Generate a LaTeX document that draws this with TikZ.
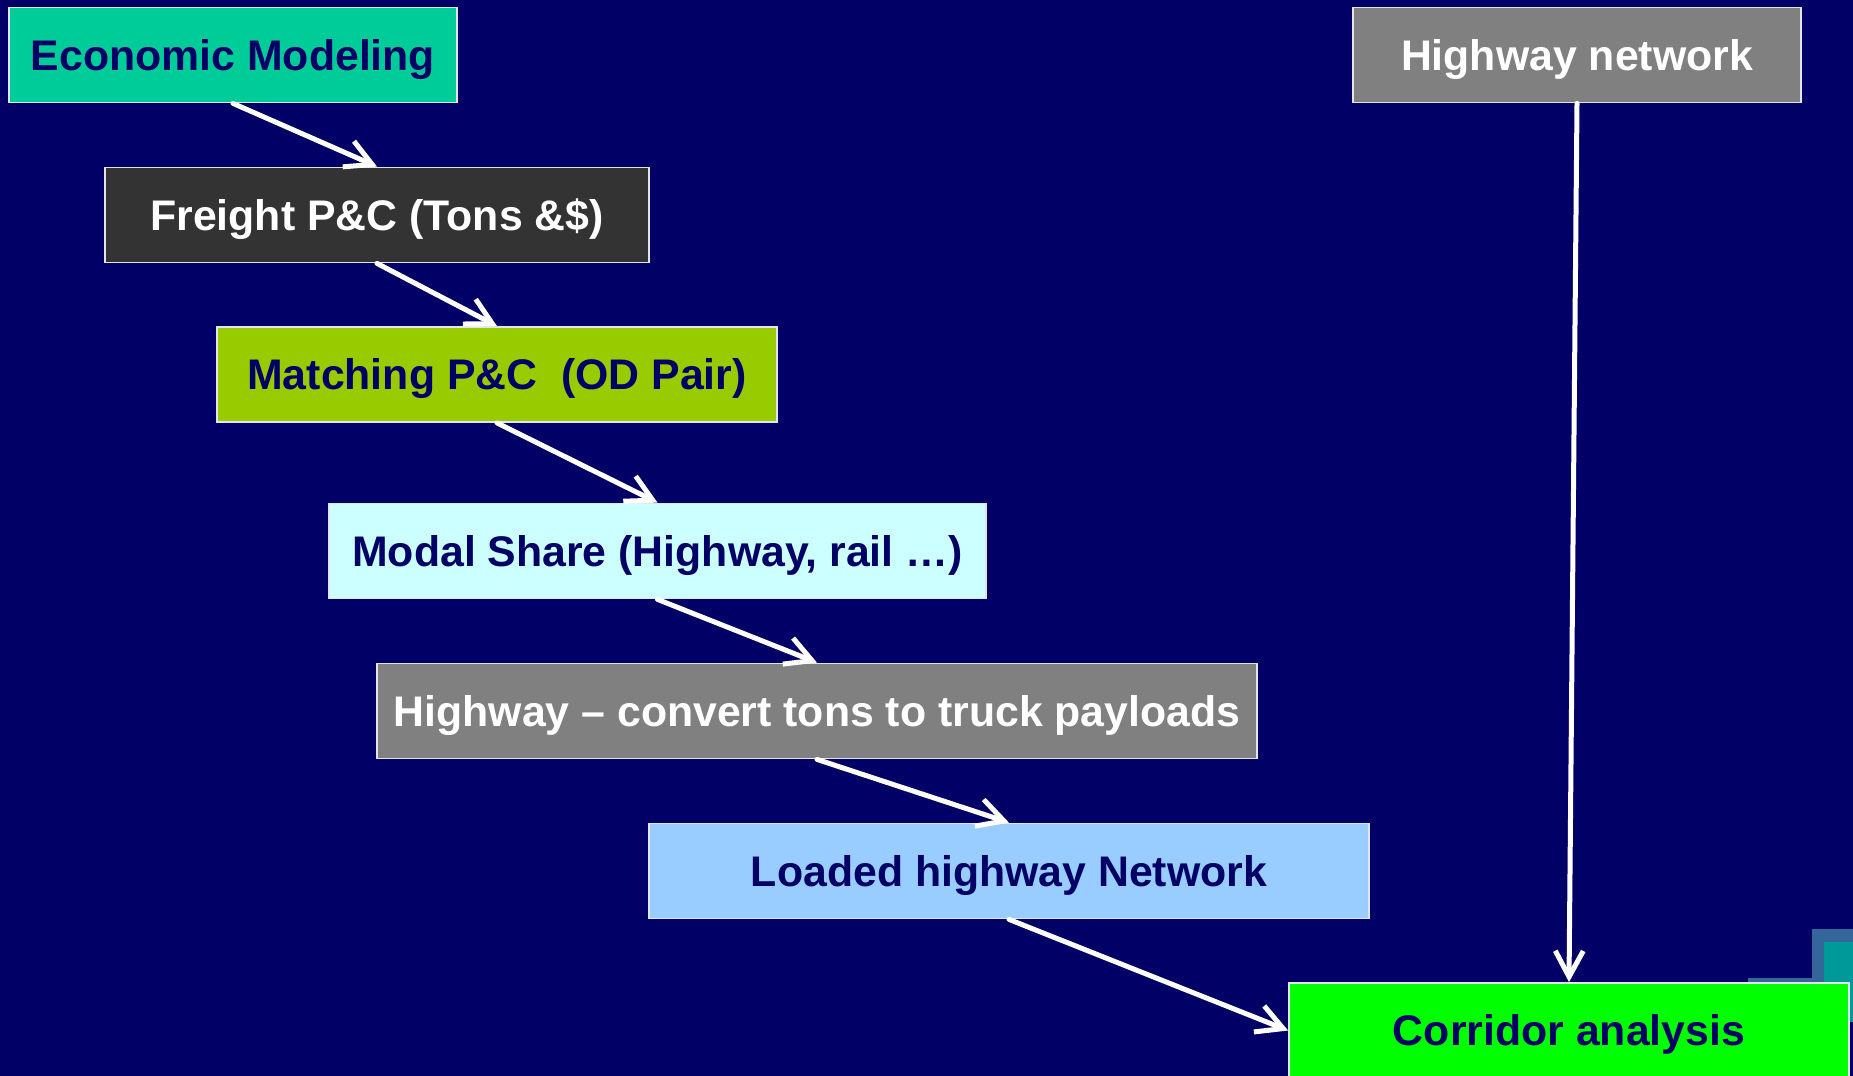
\documentclass[tikz,border=0pt]{standalone}
\usepackage{fontspec}
\setmainfont{Liberation Sans}
\usetikzlibrary{arrows.meta}
\definecolor{bg}{HTML}{000066}
\definecolor{navytext}{HTML}{000066}
\definecolor{boxline}{HTML}{E4E4F0}
\definecolor{econfill}{HTML}{00CC99}
\definecolor{freightfill}{HTML}{333333}
\definecolor{matchfill}{HTML}{99CC00}
\definecolor{modalfill}{HTML}{CCFFFF}
\definecolor{greyfill}{HTML}{808080}
\definecolor{loadedfill}{HTML}{99CCFF}
\definecolor{corrfill}{HTML}{00FF00}
\definecolor{decoblue}{HTML}{336699}
\definecolor{decoteal}{HTML}{009999}
\begin{document}
\begin{tikzpicture}[x=0.5pt,y=-0.5pt,
  box/.style={draw=boxline, line width=0.9pt, inner sep=0pt, minimum height=47.5pt,
    font=\fontsize{21.4}{25}\selectfont\bfseries, text height=15.3pt, text depth=0pt},
  flow/.style={draw=white, line width=2.5pt, line cap=round,
    -{Straight Barb[length=13pt,width=14pt]}}
]
\clip (0,0) rectangle (1853,1076);
\fill[bg] (0,0) rectangle (1853,1076);
% decoration at bottom right
\fill[decoblue] (1748,978) rectangle (1853,1022);
\fill[decoblue] (1812,929) rectangle (1853,1022);
\fill[decoteal] (1824,942) rectangle (1853,1022);
% boxes
\node[box, fill=econfill, text=navytext, minimum width=224pt] (econ) at (233,55) {Economic Modeling};
\node[box, fill=freightfill, text=white, minimum width=272pt] (freight) at (377,215) {Freight P\&C (Tons \&\$)};
\node[box, fill=matchfill, text=navytext, minimum width=280pt] (match) at (497,374.5) {Matching P\&C\ \ (OD Pair)};
\node[box, fill=modalfill, text=navytext, minimum width=328.5pt] (modal) at (657.5,551) {Modal Share (Highway, rail …)};
\node[box, fill=greyfill, text=white, minimum width=440pt] (convert) at (817,711) {Highway – convert tons to truck payloads};
\node[box, fill=loadedfill, text=navytext, minimum width=360pt] (loaded) at (1009,871) {Loaded highway Network};
\node[box, fill=corrfill, text=navytext, minimum width=280pt] (corr) at (1569,1030.5) {Corridor analysis};
\node[box, fill=greyfill, text=white, minimum width=224pt] (hnet) at (1577,55) {Highway network};
% connectors
\draw[flow] (econ.south) -- (freight.north);
\draw[flow] (freight.south) -- (match.north);
\draw[flow] (match.south) -- (modal.north);
\draw[flow] (modal.south) -- (convert.north);
\draw[flow] (convert.south) -- (loaded.north);
\draw[flow] (loaded.south) -- (corr.west);
\draw[flow] (hnet.south) -- (corr.north);
\end{tikzpicture}
\end{document}
